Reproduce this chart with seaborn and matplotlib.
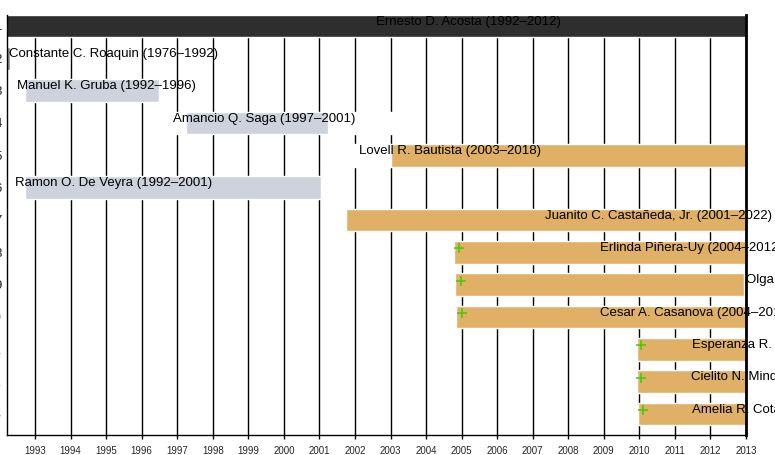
import matplotlib
matplotlib.use("Agg")
import matplotlib.pyplot as plt
import seaborn as sns
import pandas as pd

# rows, top to bottom
rows = list(range(1, 14))
names = [
    "Ernesto D. Acosta (1992\u20132012)",
    "Constante C. Roaquin (1976\u20131992)",
    "Manuel K. Gruba (1992\u20131996)",
    "Amancio Q. Saga (1997\u20132001)",
    "Lovell R. Bautista (2003\u20132018)",
    "Ramon O. De Veyra (1992\u20132001)",
    "Juanito C. Casta\u00f1eda, Jr. (2001\u20132022)",
    "Erlinda Pi\u00f1era-Uy (2004\u20132012)",
    "Olga T. Tan (2004\u20132013)",
    "Cesar A. Casanova (2004\u20132013)",
    "Esperanza R. Imperial (2010\u20132013)",
    "Cielito N. Mindaro (2010\u20132013)",
    "Amelia R. Cota (2010\u20132013)",
]
bar_start = [1992.0, 1976.0, 1992.71, 1997.25, 2003.02, 1992.71, 2001.75,
             2004.78, 2004.82, 2004.85, 2009.92, 2009.92, 2009.97]
bar_end = [2013.0, 1992.3, 1996.48, 2001.25, 2013.0, 2001.05, 2013.0,
           2013.0, 2012.95, 2013.0, 2013.0, 2013.0, 2013.0]
group = ["head", "old", "past", "past", "now", "past", "now",
         "now", "now", "now", "now", "now", "now"]

# where each name label sits (year) and how it is anchored
label_x = [2005.19, 1995.20, 1995.02, 1999.44, 2004.68, 1995.22, 2010.53,
           2008.88, 2012.99, 2008.90, 2011.47, 2011.44, 2011.47]
label_ha = ["center"] * 7 + ["left"] * 6

# green start markers
mark_rows = [8, 9, 10, 11, 12, 13]
mark_x = [2004.94, 2004.99, 2005.01, 2010.06, 2010.06, 2010.10]

# blank (white) gaps that hide the grid lines
gap_rows = [4, 4, 5]
gap_start = [1996.6, 2001.25, 2001.6]
gap_end = [1997.25, 2003.6, 2003.02]

years = list(range(1993, 2014))

colors = {"head": "#2e2e2e", "old": "#8c8c8c", "past": "#cdd2dc", "now": "#dfb066"}

df = pd.DataFrame({"row": rows, "name": names, "start": bar_start,
                   "end": bar_end, "group": group})
marks = pd.DataFrame({"row": mark_rows, "x": mark_x})

sns.set_theme(style="white")
plt.rcParams["font.family"] = ["Liberation Sans", "DejaVu Sans"]

fig = plt.figure(figsize=(7.75, 4.55), dpi=100)
ax = fig.add_axes([7 / 775, 20 / 455, 739 / 775, 420 / 455])

h = 0.7
ax.barh(gap_rows, [e - s for s, e in zip(gap_start, gap_end)], left=gap_start,
        height=h, color="white", zorder=2)
ax.barh(df["row"], df["end"] - df["start"], left=df["start"], height=h,
        color=[colors[g] for g in df["group"]], zorder=2)

sns.scatterplot(data=marks, x="x", y=marks["row"] - 0.12, marker="+", s=60,
                color="#44cc00", linewidth=1.1, zorder=4, ax=ax)

for r, t, lx, ha in zip(rows, names, label_x, label_ha):
    ax.text(lx, r - 0.13, t, ha=ha, va="center", fontsize=9.5, color="black",
            zorder=3, clip_on=False)

ax.set_xlim(1992.21, 2013)
ax.set_ylim(13.65, 0.66)
ax.set_xticks(years)
ax.set_xticklabels([str(y) for y in years], fontsize=7)
ax.set_yticks(rows)
ax.set_yticklabels([str(r) for r in rows], fontsize=9.5)
ax.tick_params(axis="y", length=0, pad=3.6)
ax.tick_params(axis="x", length=3, width=1, color="black", pad=5, bottom=True)
ax.xaxis.grid(True, color="black", linewidth=1)
ax.set_axisbelow(True)
ax.set_xlabel("")
ax.set_ylabel("")

for side in ["left", "bottom"]:
    ax.spines[side].set_color("black")
    ax.spines[side].set_linewidth(1)
ax.spines["top"].set_visible(False)
ax.spines["right"].set_color("black")
ax.spines["right"].set_linewidth(2)
ax.spines["right"].set_zorder(5)

fig.savefig("out.png", dpi=100)
